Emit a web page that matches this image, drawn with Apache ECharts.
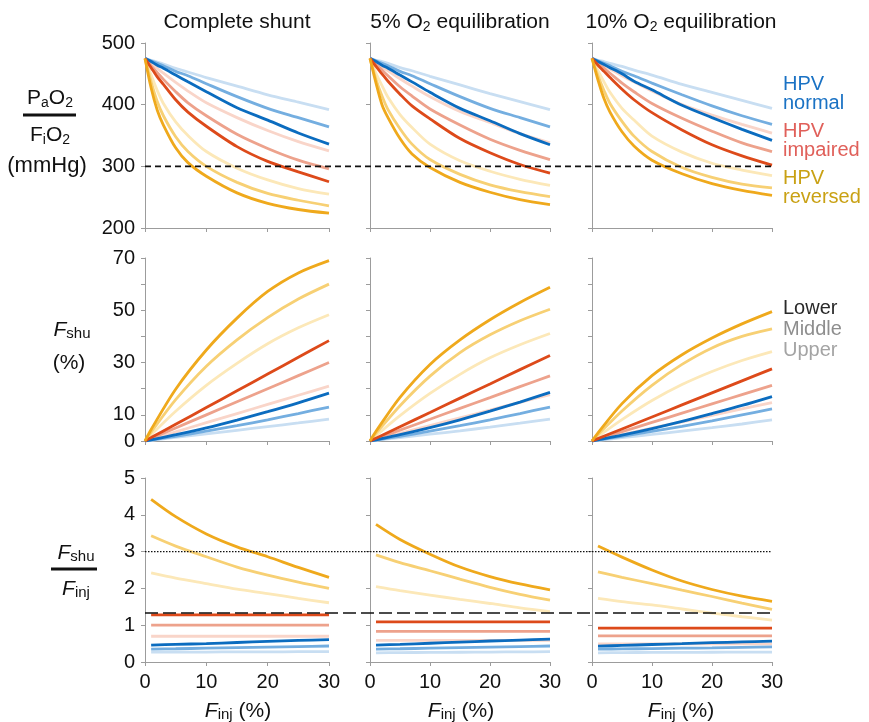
<!DOCTYPE html>
<html>
<head>
<meta charset="utf-8">
<script src="https://cdn.jsdelivr.net/npm/echarts@6/dist/echarts.min.js"></script>
<style>
  html, body { margin: 0; padding: 0; background: #fff; }
  #chart { width: 869px; height: 722px; }
</style>
</head>
<body>
<div id="chart"></div>
<script>
// --- Data ---
// line order: normal upper/middle/lower, impaired upper/middle/lower, reversed upper/middle/lower
const lineNames = [
  'HPV normal upper', 'HPV normal middle', 'HPV normal lower',
  'HPV impaired upper', 'HPV impaired middle', 'HPV impaired lower',
  'HPV reversed upper', 'HPV reversed middle', 'HPV reversed lower'
];
const lineColors = [
  '#c8def2', '#74aee0', '#0b6cbf',
  '#f9d5c9', '#eda28c', '#dd4a1a',
  '#fce8b8', '#f7d074', '#efa91c'
];

const finjTop = [0, 1, 2, 3, 5, 7, 10, 15, 20, 25, 30];
const finjMid = [0, 1, 5, 10, 15, 20, 25, 30];
const finjBot = [1, 5, 10, 15, 20, 25, 30];

// PaO2/FiO2 (mmHg)
const pfComplete = [
  [475, 472, 469, 466, 459, 453, 444, 430, 416, 404, 392],
  [475, 471, 467, 463, 454, 447, 434, 413, 394, 379, 364],
  [475, 470, 464, 459, 448, 437, 421, 395, 375, 354, 336],
  [475, 467, 459, 451, 436, 422, 403, 379, 358, 340, 325],
  [475, 463, 452, 441, 421, 403, 382, 352, 329, 310, 296],
  [475, 460, 445, 433, 408, 388, 365, 332, 308, 291, 275],
  [475, 448, 423, 402, 372, 350, 324, 297, 278, 264, 255],
  [475, 437, 405, 382, 348, 324, 300, 274, 256, 245, 236],
  [475, 427, 391, 367, 330, 306, 284, 257, 240, 230, 224]
];
const pf5 = [
  [475, 472, 470, 467, 460, 455, 446, 432, 418, 405, 392],
  [475, 471, 467, 463, 454, 447, 434, 413, 394, 379, 364],
  [475, 470, 464, 459, 448, 437, 420, 394, 374, 353, 335],
  [475, 468, 461, 455, 442, 430, 413, 389, 371, 353, 338],
  [475, 465, 456, 447, 429, 414, 393, 367, 344, 326, 311],
  [475, 462, 450, 438, 417, 398, 377, 345, 322, 303, 289],
  [475, 451, 431, 412, 384, 363, 336, 309, 292, 279, 269],
  [475, 441, 414, 392, 361, 336, 311, 287, 270, 259, 251],
  [475, 435, 400, 379, 345, 320, 298, 274, 258, 246, 238]
];
const pf10 = [
  [475, 472, 470, 467, 462, 456, 448, 433, 420, 407, 394],
  [475, 471, 467, 463, 454, 447, 435, 416, 398, 382, 368],
  [475, 470, 465, 460, 450, 438, 424, 399, 379, 360, 342],
  [475, 469, 463, 458, 447, 437, 422, 400, 383, 368, 354],
  [475, 467, 459, 451, 435, 421, 402, 378, 357, 338, 324],
  [475, 464, 454, 444, 425, 408, 387, 359, 335, 317, 302],
  [475, 455, 437, 420, 394, 375, 349, 323, 305, 294, 285],
  [475, 447, 423, 402, 373, 349, 324, 298, 282, 271, 265],
  [475, 440, 410, 388, 356, 333, 310, 288, 272, 261, 253]
];

// Fshu (%)
const fshuComplete = [
  [0, 0.27, 1.35, 2.7, 4.1, 5.5, 6.9, 8.4],
  [0, 0.35, 1.8, 3.75, 5.85, 8.1, 10.5, 13],
  [0, 0.46, 2.4, 5, 8, 11.2, 14.6, 18.3],
  [0, 0.7, 3.5, 7, 10.5, 14, 17.5, 21],
  [0, 1, 5, 10, 15, 20, 25, 30],
  [0, 1.3, 6.4, 12.8, 19.2, 25.6, 32, 38.4],
  [0, 2.4, 11.4, 21.3, 29.7, 37.2, 43.3, 48.3],
  [0, 3.4, 15.8, 28.6, 38.7, 47.2, 54.3, 60],
  [0, 4.4, 19.8, 34.8, 47, 57.2, 64.3, 69]
];
const fshu5 = [
  [0, 0.25, 1.3, 2.6, 3.9, 5.3, 6.8, 8.4],
  [0, 0.35, 1.8, 3.75, 5.85, 8.1, 10.5, 13],
  [0, 0.46, 2.4, 5.1, 8.1, 11.4, 14.9, 18.6],
  [0, 0.59, 2.95, 5.9, 8.85, 11.8, 14.8, 17.7],
  [0, 0.83, 4.15, 8.3, 12.5, 16.6, 20.8, 24.9],
  [0, 1.09, 5.45, 10.9, 16.4, 21.8, 27.3, 32.7],
  [0, 2.05, 9.7, 18.2, 25.5, 31.8, 36.8, 41.1],
  [0, 2.9, 13.5, 24.8, 33.8, 40.6, 46, 50.4],
  [0, 3.7, 16.7, 29.3, 38.7, 46.4, 53, 58.8]
];
const fshu10 = [
  [0, 0.25, 1.25, 2.5, 3.8, 5.1, 6.5, 8.1],
  [0, 0.35, 1.8, 3.65, 5.6, 7.7, 10, 12.3],
  [0, 0.43, 2.25, 4.75, 7.5, 10.5, 13.6, 17],
  [0, 0.49, 2.45, 4.9, 7.35, 9.8, 12.25, 14.7],
  [0, 0.71, 3.55, 7.1, 10.65, 14.2, 17.75, 21.3],
  [0, 0.92, 4.6, 9.2, 13.8, 18.4, 23, 27.6],
  [0, 1.73, 8.2, 15.5, 21.6, 26.6, 30.8, 34.2],
  [0, 2.45, 11.5, 21.3, 29.3, 35.6, 40, 42.9],
  [0, 3.15, 14.3, 25, 33, 39.4, 44.8, 49.5]
];

// Fshu / Finj
const ratioComplete = [
  [0.27, 0.27, 0.27, 0.275, 0.275, 0.28, 0.28],
  [0.35, 0.36, 0.375, 0.39, 0.405, 0.42, 0.435],
  [0.46, 0.48, 0.5, 0.53, 0.56, 0.585, 0.61],
  [0.7, 0.7, 0.7, 0.7, 0.7, 0.7, 0.7],
  [1.0, 1.0, 1.0, 1.0, 1.0, 1.0, 1.0],
  [1.28, 1.28, 1.28, 1.28, 1.28, 1.28, 1.28],
  [2.42, 2.28, 2.13, 1.98, 1.86, 1.73, 1.61],
  [3.43, 3.15, 2.86, 2.58, 2.36, 2.17, 2.0],
  [4.42, 3.95, 3.48, 3.13, 2.86, 2.57, 2.3]
];
const ratio5 = [
  [0.25, 0.255, 0.26, 0.265, 0.27, 0.275, 0.28],
  [0.35, 0.36, 0.375, 0.39, 0.405, 0.42, 0.435],
  [0.46, 0.48, 0.51, 0.54, 0.57, 0.595, 0.62],
  [0.59, 0.59, 0.59, 0.59, 0.59, 0.59, 0.59],
  [0.83, 0.83, 0.83, 0.83, 0.83, 0.83, 0.83],
  [1.09, 1.09, 1.09, 1.09, 1.09, 1.09, 1.09],
  [2.05, 1.94, 1.82, 1.7, 1.59, 1.47, 1.37],
  [2.91, 2.7, 2.48, 2.25, 2.03, 1.84, 1.68],
  [3.74, 3.33, 2.93, 2.58, 2.32, 2.12, 1.96]
];
const ratio10 = [
  [0.25, 0.255, 0.26, 0.26, 0.265, 0.27, 0.27],
  [0.35, 0.355, 0.365, 0.375, 0.385, 0.4, 0.41],
  [0.43, 0.45, 0.475, 0.5, 0.525, 0.545, 0.565],
  [0.49, 0.49, 0.49, 0.49, 0.49, 0.49, 0.49],
  [0.71, 0.71, 0.71, 0.71, 0.71, 0.71, 0.71],
  [0.92, 0.92, 0.92, 0.92, 0.92, 0.92, 0.92],
  [1.73, 1.64, 1.55, 1.44, 1.33, 1.23, 1.14],
  [2.45, 2.3, 2.13, 1.95, 1.78, 1.6, 1.43],
  [3.15, 2.85, 2.5, 2.2, 1.97, 1.79, 1.65]
];

const fshuTickLabels = [0, 10, 30, 50, 70];
const pfThreshold = 300;
const ratioDotted = 3;
const ratioDashed = 1.33;

// --- Layout ---
const FONT = '"Liberation Sans", Arial, Helvetica, sans-serif';
const AXIS_GREY = '#9c9c9c';
const colLeft = [145, 370, 592];
const colWidth = [184, 180, 180];
const rowTop = [43, 258, 478];
const rowHeight = [185, 183, 184];

const rows = [
  { x: finjTop, sets: [pfComplete, pf5, pf10], min: 200, max: 500, interval: 100, labels: null },
  { x: finjMid, sets: [fshuComplete, fshu5, fshu10], min: 0, max: 70, interval: 10, labels: fshuTickLabels },
  { x: finjBot, sets: [ratioComplete, ratio5, ratio10], min: 0, max: 5, interval: 1, labels: null }
];
const drawOrder = [0, 3, 6, 1, 4, 7, 2, 5, 8];

const grid = [], xAxis = [], yAxis = [], series = [];
rows.forEach((row, r) => {
  for (let c = 0; c < 3; c++) {
    const gi = r * 3 + c;
    grid.push({ left: colLeft[c], top: rowTop[r], width: colWidth[c], height: rowHeight[r] });
    xAxis.push({
      type: 'value', gridIndex: gi, min: 0, max: 30, interval: 10,
      axisLine: { lineStyle: { color: AXIS_GREY, width: 1 } },
      axisTick: { length: 4, lineStyle: { color: AXIS_GREY } },
      splitLine: { show: false },
      axisLabel: { show: r === 2, color: '#111', fontSize: 20, fontFamily: FONT, margin: 10 }
    });
    yAxis.push({
      type: 'value', gridIndex: gi, min: row.min, max: row.max, interval: row.interval,
      axisLine: { show: true, lineStyle: { color: AXIS_GREY, width: 1 } },
      axisTick: { show: true, length: 4, lineStyle: { color: AXIS_GREY } },
      splitLine: { show: false },
      axisLabel: {
        show: c === 0, color: '#111', fontSize: 20, fontFamily: FONT, margin: 10,
        formatter: v => (row.labels && row.labels.indexOf(v) < 0) ? '' : String(v)
      }
    });
    drawOrder.forEach(k => {
      series.push({
        name: lineNames[k], type: 'line', xAxisIndex: gi, yAxisIndex: gi,
        data: row.x.map((x, j) => [x, row.sets[c][k][j]]),
        showSymbol: false, smooth: 0.3, silent: true,
        lineStyle: { color: lineColors[k], width: 2.8 },
        z: 3
      });
    });
  }
});

const chart = echarts.init(document.getElementById('chart'), null, { renderer: 'canvas' });
chart.setOption({ animation: false, backgroundColor: '#fff', grid, xAxis, yAxis, series });

// --- Annotations ---
const M = 21, S = 14;
function label(id, x, y, text, rich) {
  return {
    type: 'text', id, x, y, z: 10,
    style: { text, rich, fontFamily: FONT, fontSize: M, fill: '#111', align: 'center', verticalAlign: 'middle' }
  };
}
const subRich = {
  m: { fontSize: M, fontFamily: FONT, fill: '#111', lineHeight: 26 },
  big: { fontSize: 22, fontFamily: FONT, fill: '#111', lineHeight: 26 },
  s: { fontSize: S, fontFamily: FONT, fill: '#111', lineHeight: 14, padding: [11, 0, 0, 0] },
  fi: { fontSize: M, fontFamily: FONT, fill: '#111', fontStyle: 'italic', lineHeight: 26 },
  fs: { fontSize: S + 1, fontFamily: FONT, fill: '#111', lineHeight: 15, padding: [8, 0, 0, 0] }
};

const graphic = [
  label('t1', 237, 22, '{m|Complete shunt}', subRich),
  label('t2', 460, 22, '{m|5% O}{s|2}{m| equilibration}', subRich),
  label('t3', 681, 22, '{m|10% O}{s|2}{m| equilibration}', subRich),
  label('l1a', 50, 98, '{m|P}{s|a}{m|O}{s|2}', subRich),
  { type: 'line', id: 'l1line', shape: { x1: 23, y1: 115, x2: 76, y2: 115 }, style: { stroke: '#111', lineWidth: 3 } },
  label('l1b', 50, 135, '{m|F}{s|i}{m|O}{s|2}', subRich),
  label('l1c', 47, 166, '{big|(mmHg)}', subRich),
  label('l2a', 72, 330, '{fi|F}{fs|shu}', subRich),
  label('l2b', 69, 363, '{m|(%)}', subRich),
  label('l3a', 76, 553, '{fi|F}{fs|shu}', subRich),
  { type: 'line', id: 'l3line', shape: { x1: 51, y1: 569, x2: 97, y2: 569 }, style: { stroke: '#111', lineWidth: 3 } },
  label('l3b', 76, 589, '{fi|F}{fs|inj}', subRich),
  label('x1', 238, 711, '{fi|F}{fs|inj}{m| (%)}', subRich),
  label('x2', 461, 711, '{fi|F}{fs|inj}{m| (%)}', subRich),
  label('x3', 681, 711, '{fi|F}{fs|inj}{m| (%)}', subRich)
];

const legendItems = [
  ['HPV', 84, '#1a72c4'], ['normal', 103, '#1a72c4'],
  ['HPV', 131, '#e0605a'], ['impaired', 150, '#e0605a'],
  ['HPV', 178, '#c9a114'], ['reversed', 197, '#c9a114'],
  ['Lower', 308, '#2a2a2a'], ['Middle', 329, '#8e8e8e'], ['Upper', 350, '#a4a4a4']
];
legendItems.forEach((it, i) => {
  graphic.push({
    type: 'text', id: 'lg' + i, x: 783, y: it[1], z: 10,
    style: { text: it[0], fontFamily: FONT, fontSize: 20, fill: it[2], align: 'left', verticalAlign: 'middle' }
  });
});

// reference lines spanning all three columns, placed through the axes' scales
function hline(id, gLeft, gRight, value, dash, width) {
  const a = chart.convertToPixel({ gridIndex: gLeft }, [0, value]);
  const b = chart.convertToPixel({ gridIndex: gRight }, [30, value]);
  return {
    type: 'line', id, z: 8,
    shape: { x1: a[0], y1: a[1], x2: b[0], y2: b[1] },
    style: { stroke: '#111', lineWidth: width, lineDash: dash }
  };
}
graphic.push(hline('ref300', 0, 2, pfThreshold, [6, 4], 1.6));
graphic.push(hline('ref3', 6, 8, ratioDotted, [1.5, 1.5], 1.4));
graphic.push(hline('ref133', 6, 8, ratioDashed, [13, 5], 1.6));

chart.setOption({ graphic });
</script>
</body>
</html>
